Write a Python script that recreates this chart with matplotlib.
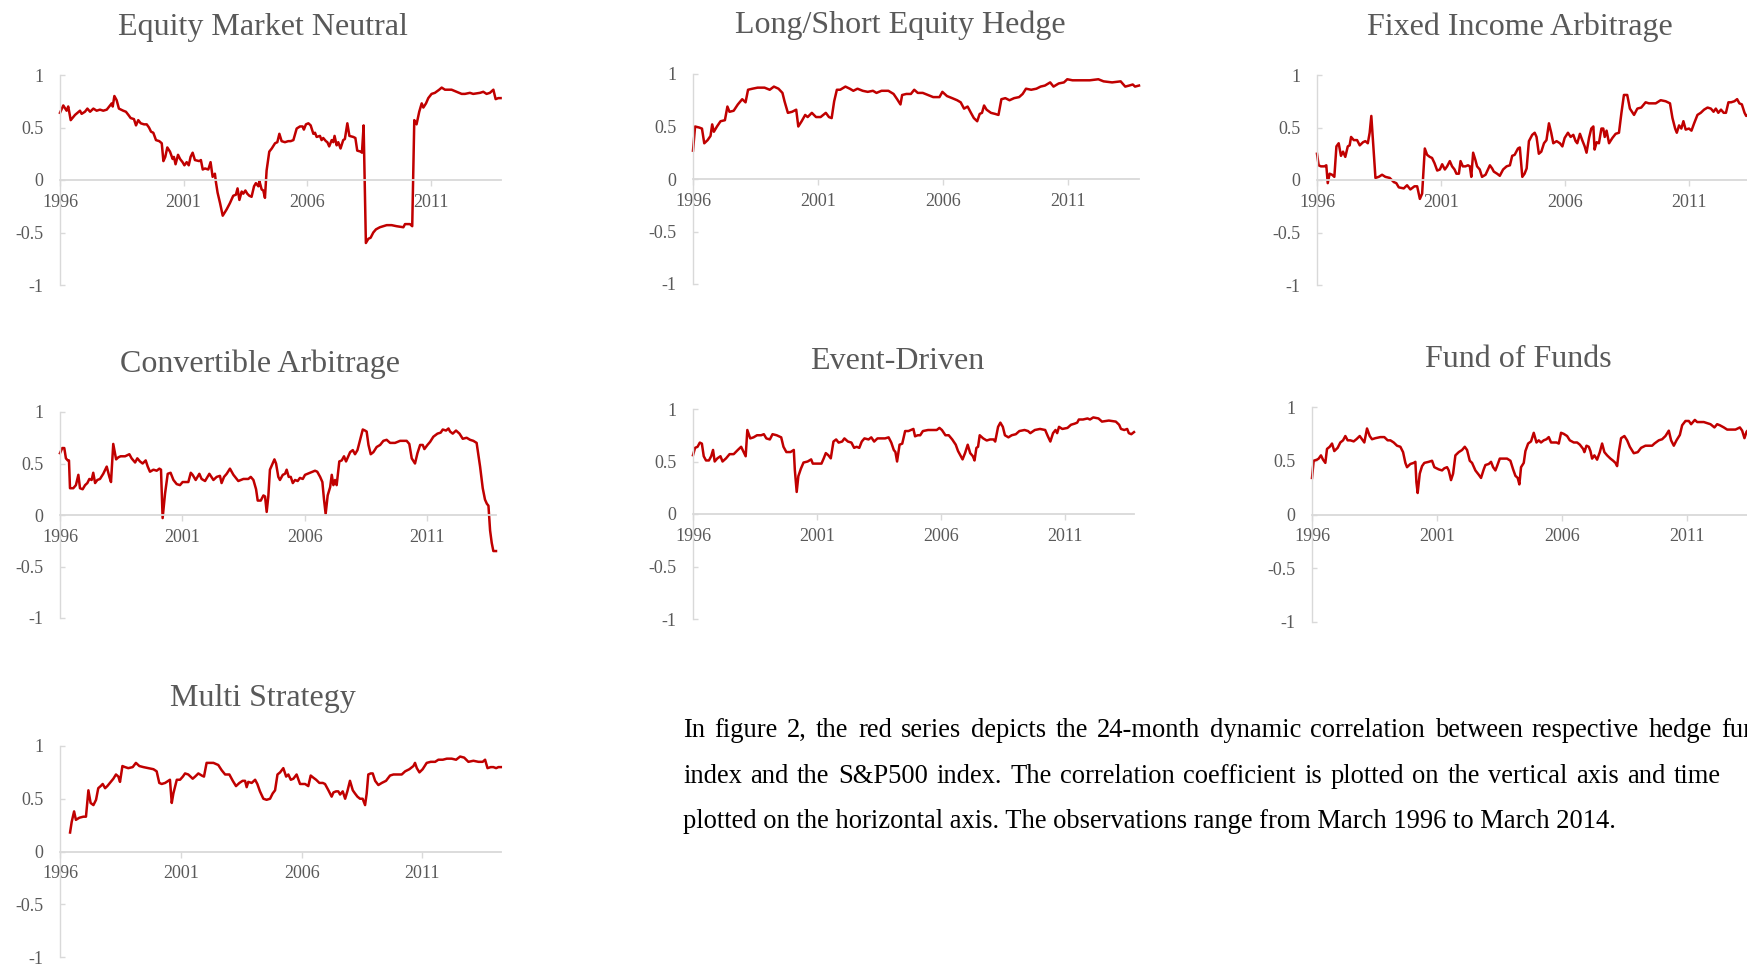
import matplotlib
matplotlib.use('Agg')
import matplotlib.pyplot as plt

plt.rcParams['font.family'] = ['Liberation Serif', 'DejaVu Serif']
plt.rcParams['axes.unicode_minus'] = False

# 24-month rolling correlation with S&P500, (months since Jan 1996, value)
emn = [(0,0.64),(1.6,0.71),(3.2,0.66),(4,0.70),(5.2,0.57),(7.3,0.62),(9.7,0.66),(10.5,0.63),(12.1,0.65),(13.3,0.68),
       (14.6,0.65),(16.2,0.68),(17.8,0.66),(19.4,0.67),(21,0.66),(22.7,0.67),(24.3,0.71),(25.1,0.73),(25.6,0.70),(26.4,0.80),
       (27.5,0.76),(28.6,0.68),(30.7,0.66),(32,0.65),(33.2,0.62),(34.3,0.59),(35.9,0.58),(36.9,0.52),(38,0.57),(39.2,0.54),
       (40.8,0.53),(42.1,0.53),(43.2,0.50),(44.2,0.46),(45.3,0.45),(46.6,0.38),(48.2,0.37),(49.4,0.35),(50.2,0.18),(51.1,0.22),
       (52.1,0.31),(53.4,0.27),(54.7,0.20),(55.3,0.22),(56.1,0.15),(57.3,0.24),(58.3,0.20),(59.5,0.17),(60.4,0.14),(61.5,0.17),
       (62.5,0.14),(63.4,0.22),(64.4,0.26),(65.5,0.19),(67.6,0.18),(68.4,0.19),(69.3,0.10),(70.4,0.11),(72,0.10),(73.1,0.17),
       (74.1,0.03),(75.2,0.06),(75.7,-0.02),(76.5,-0.12),(77.7,-0.22),(79,-0.34),(80.9,-0.28),(82.5,-0.22),(84.1,-0.15),(85.4,-0.14),
       (86.2,-0.08),(87.1,-0.19),(88.2,-0.11),(89,-0.13),(90,-0.10),(90.9,-0.13),(91.9,-0.15),(93,-0.16),(94.2,-0.06),(95.1,-0.03),
       (96.3,-0.06),(96.8,-0.01),(97.9,-0.09),(98.7,-0.10),(99.5,-0.17),(100.3,0.09),(101.6,0.27),(102.8,0.30),(104.4,0.35),(105.5,0.36),
       (106.5,0.44),(107.6,0.37),(109.2,0.36),(110.8,0.37),(112,0.37),(113.3,0.38),(114.9,0.49),(116.5,0.51),(117.8,0.51),(118.4,0.48),
       (119.4,0.53),(120.6,0.54),(121.7,0.52),(123,0.44),(123.8,0.45),(124.6,0.41),(126.2,0.42),(127,0.38),(127.8,0.40),(129.1,0.37),
       (129.8,0.36),(130.7,0.32),(131.9,0.38),(132.7,0.36),(133.3,0.42),(134.3,0.33),(135.1,0.36),(136.2,0.30),(137.5,0.38),(138.3,0.39),
       (139.5,0.54),(140.5,0.42),(142.4,0.41),(143.4,0.40),(144.3,0.28),(146,0.27),(146.6,0.26),(147.4,0.52),(148.5,-0.60),(149.7,-0.56),
       (150.8,-0.55),(152.1,-0.50),(153.4,-0.47),(155.3,-0.45),(158.6,-0.43),(161,-0.43),(163.4,-0.44),(166.7,-0.45),(167.5,-0.42),(169.9,-0.42),
       (171,-0.44),(172,0.57),(173.1,0.53),(174.4,0.65),(175.6,0.73),(176.4,0.69),(177.7,0.73),(178.8,0.78),(180.4,0.82),(182,0.83),
       (184.1,0.86),(185.3,0.88),(186.9,0.86),(190.1,0.86),(192.6,0.84),(195,0.82),(196.6,0.82),(199,0.83),(200.6,0.82),(203.9,0.83),
       (205.5,0.84),(207.1,0.82),(208.7,0.83),(210.4,0.86),(211.5,0.77),(212.8,0.78),(213.9,0.78)]

lse = [(0,0.27),(1,0.50),(3,0.49),(4.3,0.48),(5.4,0.34),(7,0.37),(8.4,0.41),(9.2,0.52),(10,0.45),(11.5,0.50),
       (13.2,0.55),(15.3,0.56),(16.5,0.69),(17.5,0.64),(19.5,0.65),(21.5,0.71),(23.6,0.76),(25.2,0.73),(26.4,0.85),(28.5,0.86),
       (31,0.87),(34.3,0.87),(36.8,0.85),(38.8,0.88),(41,0.86),(42.9,0.82),(43.9,0.74),(45.5,0.63),(47.5,0.64),(49.5,0.66),
       (50.5,0.50),(52.1,0.55),(53.8,0.61),(55,0.59),(57,0.63),(59,0.59),(61.2,0.59),(63.7,0.63),(65.2,0.59),(66.5,0.58),
       (67.7,0.74),(69,0.85),(70.6,0.85),(73.1,0.88),(75.2,0.86),(76.9,0.84),(78.9,0.86),(81.4,0.84),(83.8,0.83),(86.3,0.84),
       (88,0.82),(90.4,0.84),(93.7,0.84),(96.2,0.81),(97.9,0.76),(99.5,0.71),(100.3,0.80),(102.3,0.81),(104.5,0.81),(106.1,0.85),
       (107.8,0.82),(110.2,0.82),(112.7,0.80),(115.2,0.78),(118.2,0.78),(119.6,0.83),(121.8,0.79),(124.3,0.77),(126.7,0.75),(128.4,0.73),
       (130,0.67),(131.7,0.69),(133.3,0.63),(134.7,0.58),(136.3,0.55),(137.5,0.62),(138.6,0.63),(139.6,0.70),(140.8,0.66),(142.9,0.63),
       (144.9,0.62),(146.5,0.61),(147.9,0.76),(149.8,0.77),(151.8,0.75),(154,0.77),(156.4,0.78),(158.1,0.81),(159.7,0.86),(162.2,0.85),
       (164.7,0.86),(166.7,0.88),(168.8,0.89),(171.3,0.92),(172.9,0.88),(175.4,0.91),(177.9,0.92),(179.5,0.95),(182,0.94),(186.1,0.94),
       (190.3,0.94),(194.4,0.95),(196.9,0.93),(201,0.92),(205.1,0.93),(207.3,0.88),(209.2,0.89),(210.9,0.90),(212,0.88),(213.9,0.89)]

fia = [(0,0.25),(0.8,0.14),(1.9,0.13),(3.6,0.13),(4.5,0.14),(5.2,-0.03),(6.1,0.06),(7.3,0.05),(8.4,0.03),(9.4,0.32),
       (10.5,0.35),(11.6,0.23),(12.6,0.27),(13.7,0.22),(14.9,0.32),(15.8,0.33),(16.5,0.41),(17.8,0.38),(19.4,0.38),(20.7,0.33),
       (22.3,0.36),(23.4,0.37),(24.6,0.35),(25.5,0.45),(26.3,0.61),(27.1,0.38),(28.3,0.02),(29.9,0.03),(31.5,0.05),(33.1,0.03),
       (35.2,0.02),(37.2,-0.02),(38.4,-0.03),(39.6,-0.07),(42,-0.08),(43.6,-0.05),(45.2,-0.09),(47.2,-0.06),(48.5,-0.06),(49.8,-0.18),
       (50.9,-0.13),(52.2,0.30),(53.3,0.24),(54.6,0.22),(55.7,0.21),(56.9,0.16),(58.2,0.09),(59.5,0.10),(60.6,0.15),(61.9,0.10),
       (63,0.13),(64.3,0.18),(65.4,0.13),(66.6,0.10),(67.5,0.06),(68.7,0.06),(69.5,0.18),(70.6,0.13),(71.9,0.13),(73.1,0.14),
       (74,0.13),(74.7,0.03),(75.6,0.26),(76.7,0.19),(77.5,0.13),(78.8,0.10),(79.9,0.03),(81.6,0.05),(83.7,0.14),(84.8,0.11),
       (85.6,0.08),(87.2,0.06),(88.5,0.04),(90.1,0.10),(91.8,0.13),(93.4,0.14),(94.5,0.23),(95.7,0.24),(97.3,0.30),(98.2,0.31),
       (99.4,0.03),(100.5,0.06),(101.5,0.11),(102.6,0.37),(104.2,0.43),(105.4,0.45),(106.3,0.41),(107.4,0.25),(108.6,0.27),(109.9,0.35),
       (111.1,0.38),(112.3,0.54),(113.4,0.45),(114.4,0.35),(116,0.37),(117.6,0.35),(118.8,0.32),(119.9,0.40),(121.5,0.45),(122.8,0.41),
       (124.1,0.43),(125.2,0.37),(126,0.35),(127.3,0.44),(128.4,0.38),(129.6,0.32),(130.5,0.26),(131.7,0.40),(132.8,0.49),(133.8,0.51),
       (134.4,0.29),(135.4,0.36),(136.5,0.35),(137.7,0.49),(138.6,0.49),(139.3,0.41),(140.2,0.47),(141.4,0.35),(143,0.40),(144.6,0.44),
       (146.2,0.45),(147.4,0.64),(148.6,0.81),(150.2,0.81),(151.5,0.68),(153.5,0.62),(155.1,0.68),(157,0.69),(159.1,0.74),(160.7,0.73),
       (164,0.73),(166.4,0.76),(168.8,0.75),(170.9,0.73),(172.1,0.59),(173.4,0.49),(174.2,0.45),(175.3,0.52),(176.4,0.49),(177.4,0.56),
       (178.5,0.48),(180.1,0.49),(181.3,0.47),(182.6,0.54),(184.2,0.62),(185.8,0.64),(187.4,0.67),(189.1,0.69),(190.7,0.68),(192,0.65),
       (193.1,0.68),(194.3,0.64),(195.6,0.67),(196.9,0.64),(198,0.64),(199.2,0.74),(200.5,0.74),(202.1,0.75),(203.4,0.77),(204.5,0.73),
       (205.7,0.72),(207,0.64),(207.8,0.61),(208.6,0.62)]

cva = [(0,0.60),(1.1,0.65),(2.1,0.65),(2.9,0.55),(3.8,0.53),(4.4,0.53),(4.9,0.26),(6.5,0.26),(7.8,0.29),(9,0.39),
       (9.8,0.26),(11.1,0.25),(12.3,0.29),(13.4,0.31),(14.4,0.35),(15.5,0.34),(16.3,0.41),(17.2,0.31),(18.3,0.34),(19.6,0.35),
       (21.2,0.40),(22.9,0.47),(24.2,0.37),(25,0.32),(26.1,0.69),(27.5,0.54),(28.6,0.56),(29.7,0.57),(31.9,0.57),(34,0.59),
       (35.1,0.55),(36.8,0.51),(37.9,0.55),(39.2,0.52),(40.5,0.50),(42,0.53),(43,0.47),(44.1,0.42),(45.8,0.44),(47.4,0.43),
       (48.7,0.45),(49.5,0.44),(50.3,-0.03),(51.5,0.21),(52.8,0.40),(54.2,0.41),(55.6,0.34),(57.2,0.30),(58.8,0.29),(60.1,0.32),
       (61.8,0.32),(62.9,0.32),(64.1,0.41),(65,0.39),(66.5,0.34),(68.3,0.40),(69.4,0.35),(71.1,0.33),(73.2,0.40),(75.2,0.34),
       (76.8,0.37),(78.4,0.38),(79.2,0.31),(80.4,0.37),(81.7,0.40),(83.3,0.45),(85,0.39),(87.4,0.33),(89.9,0.35),(92.3,0.35),
       (93.5,0.37),(94.8,0.34),(96.1,0.25),(96.9,0.14),(98.4,0.14),(99.7,0.19),(100.5,0.18),(101.3,0.03),(102.1,0.18),(102.9,0.44),
       (104.2,0.50),(105.1,0.54),(105.9,0.50),(107,0.37),(107.8,0.34),(109.2,0.39),(110.3,0.40),(111.1,0.44),(112.1,0.37),(113.1,0.37),
       (114.1,0.31),(115.2,0.34),(116.5,0.33),(117.6,0.36),(119,0.35),(120.1,0.39),(122.5,0.41),(125,0.43),(126.1,0.42),(127.5,0.37),
       (128.6,0.32),(129.4,0.15),(130.2,0.01),(131.2,0.19),(132.4,0.27),(133.2,0.39),(134,0.29),(134.8,0.34),(135.6,0.29),(136.9,0.52),
       (138.1,0.53),(139.2,0.57),(140.2,0.52),(141.3,0.57),(142.2,0.61),(143.5,0.63),(144.6,0.59),(145.8,0.63),(147.1,0.73),(148.4,0.83),
       (149.5,0.82),(150.3,0.81),(151.2,0.68),(152.3,0.59),(153.6,0.61),(155.2,0.66),(156.9,0.68),(158.5,0.72),(160.1,0.73),(161.8,0.70),
       (164.2,0.70),(166.7,0.72),(169.9,0.72),(171.2,0.69),(172.4,0.55),(174,0.50),(175.2,0.60),(176.5,0.68),(177.8,0.68),(178.6,0.64),
       (180.1,0.68),(181.4,0.71),(183,0.76),(185,0.79),(186.6,0.80),(187.6,0.83),(189.2,0.82),(190.4,0.84),(191.2,0.81),(192.5,0.79),
       (194.1,0.82),(195.8,0.79),(197.4,0.74),(199.3,0.75),(201,0.73),(202.6,0.72),(204.2,0.70),(205.9,0.47),(207.2,0.26),(208.3,0.15),
       (209.2,0.11),(210,0.09),(210.8,-0.15),(211.6,-0.27),(212.4,-0.35),(213.7,-0.35)]

evd = [(0,0.56),(1,0.63),(2.2,0.64),(3.3,0.68),(4.3,0.67),(5.2,0.55),(6.3,0.51),(7.7,0.51),(8.8,0.55),(9.7,0.61),
       (10.5,0.50),(11.8,0.53),(13.3,0.55),(14.3,0.50),(16,0.53),(17.7,0.57),(19.7,0.57),(21.7,0.61),(23.3,0.64),(24.3,0.60),
       (25.5,0.55),(26.3,0.80),(27.7,0.72),(29.3,0.73),(31,0.75),(33,0.75),(34.3,0.76),(35.5,0.72),(37.2,0.71),(38.5,0.76),
       (40.5,0.75),(42.7,0.73),(43.8,0.64),(45.2,0.59),(47.2,0.59),(48.8,0.61),(49.3,0.42),(50.2,0.21),(51,0.36),(52.2,0.43),
       (53.5,0.49),(55.5,0.50),(57.2,0.52),(58,0.48),(59.7,0.48),(62.2,0.48),(63.3,0.53),(64.3,0.58),(65.5,0.56),(66.7,0.53),
       (68,0.69),(69.3,0.71),(70.5,0.68),(72.2,0.69),(73.3,0.72),(75,0.69),(76.7,0.68),(78,0.63),(79.2,0.64),(80.5,0.63),
       (81.7,0.69),(83,0.72),(85,0.71),(86.3,0.73),(87.7,0.69),(89.3,0.72),(91.3,0.72),(93,0.72),(94.7,0.73),(96,0.68),
       (97.2,0.61),(98,0.59),(98.8,0.50),(100,0.66),(101.3,0.67),(102.7,0.79),(104.3,0.79),(105.5,0.80),(106.7,0.81),(107.5,0.74),
       (108.8,0.75),(110,0.75),(111.3,0.79),(113.8,0.80),(116.3,0.80),(118,0.80),(119.3,0.82),(120.5,0.80),(122.2,0.75),(123.8,0.75),
       (125.5,0.71),(127.2,0.66),(128.3,0.60),(129.7,0.55),(130.5,0.52),(131.7,0.58),(133,0.66),(134.2,0.58),(135.5,0.55),(136.3,0.51),
       (137.2,0.63),(138,0.64),(138.8,0.75),(140.5,0.72),(142.2,0.70),(143.8,0.71),(145.5,0.71),(146.3,0.69),(147.7,0.83),(148.8,0.87),
       (150,0.83),(151,0.75),(152.7,0.73),(154.3,0.75),(156.3,0.76),(158,0.79),(160.5,0.80),(162.2,0.79),(163.3,0.77),(165.5,0.80),
       (168,0.81),(170.5,0.80),(171.8,0.74),(173,0.69),(174.3,0.77),(175.5,0.80),(176.3,0.77),(177.2,0.83),(178.8,0.81),(181.3,0.82),
       (183,0.85),(184.7,0.86),(186,0.87),(186.8,0.90),(188.8,0.90),(191,0.91),(192.2,0.90),(193.8,0.92),(196.3,0.91),(198,0.88),
       (201.3,0.89),(204.7,0.88),(206.3,0.85),(207.2,0.81),(208.8,0.80),(210.2,0.81),(211,0.77),(212.2,0.76),(213.5,0.78)]

fof = [(0,0.34),(0.8,0.50),(2.4,0.51),(3.2,0.52),(4.3,0.55),(5.3,0.51),(6.4,0.48),(7.2,0.61),(8.5,0.63),(9.6,0.66),
       (10.7,0.59),(12.3,0.62),(13.6,0.67),(14.9,0.69),(16,0.73),(17.1,0.69),(18.4,0.69),(20,0.68),(21.3,0.70),(22.9,0.73),
       (24,0.70),(25.1,0.67),(26.4,0.80),(27.7,0.73),(28.8,0.70),(30.4,0.71),(32.8,0.72),(34.7,0.72),(36.3,0.69),(37.6,0.69),
       (39.2,0.67),(40.8,0.64),(42.4,0.63),(43.7,0.58),(44.8,0.48),(45.6,0.44),(47.2,0.47),(48.8,0.48),(49.6,0.49),(50.1,0.30),
       (50.7,0.20),(51.7,0.38),(52.8,0.45),(53.9,0.48),(56,0.49),(57.6,0.50),(58.7,0.44),(60.8,0.42),(62.4,0.41),(63.5,0.43),
       (64.8,0.44),(65.6,0.41),(66.7,0.32),(67.7,0.38),(68.8,0.55),(70.4,0.58),(72,0.60),(73.3,0.63),(74.4,0.60),(75.7,0.50),
       (76.8,0.48),(78.4,0.41),(80,0.37),(81.1,0.34),(82.4,0.42),(83.2,0.46),(84.8,0.47),(85.9,0.49),(86.9,0.44),(88,0.41),
       (88.8,0.45),(90.1,0.52),(91.7,0.52),(93.6,0.52),(95.2,0.50),(96.5,0.42),(97.6,0.36),(98.7,0.34),(99.5,0.28),(100.3,0.44),
       (101.6,0.48),(102.4,0.59),(103.7,0.66),(105.1,0.68),(106.4,0.76),(107.7,0.67),(108.8,0.69),(109.9,0.67),(111.2,0.69),(112.5,0.70),
       (113.6,0.72),(114.7,0.67),(117.3,0.67),(118.4,0.66),(119.5,0.76),(120.8,0.75),(122.4,0.73),(123.7,0.69),(125.6,0.67),(127.2,0.67),
       (128.5,0.65),(130.1,0.61),(130.7,0.58),(131.7,0.64),(132.8,0.63),(133.6,0.59),(134.4,0.52),(135.5,0.55),(136.8,0.51),(138.1,0.58),
       (139.2,0.66),(140.3,0.58),(141.6,0.55),(143.2,0.52),(144.5,0.50),(145.6,0.48),(146.4,0.45),(147.2,0.58),(148.3,0.71),(149.9,0.73),
       (151.2,0.69),(152.5,0.63),(154.4,0.57),(156.3,0.58),(157.9,0.62),(160,0.64),(163.2,0.64),(164.3,0.66),(166.4,0.69),(168,0.70),
       (169.6,0.73),(171.2,0.78),(172.3,0.69),(173.6,0.64),(174.9,0.69),(176.5,0.74),(177.6,0.83),(179.2,0.87),(180.8,0.87),(181.9,0.84),
       (183.7,0.88),(184.8,0.86),(188,0.86),(191.2,0.84),(193.1,0.81),(194.4,0.84),(195.7,0.83),(197.6,0.81),(199.2,0.79),(200.8,0.79),
       (203.2,0.79),(205.3,0.81),(206.4,0.78),(207.5,0.71),(208.5,0.77),(209,0.78)]

mst = [(5,0.18),(5.8,0.28),(7,0.38),(7.9,0.30),(9.6,0.32),(11.6,0.33),(12.9,0.33),(14.1,0.58),(15.2,0.46),(16.6,0.44),
       (17.9,0.49),(19,0.60),(20.2,0.62),(21.2,0.64),(22.4,0.60),(23.5,0.62),(24.8,0.65),(26.5,0.69),(27.8,0.73),(29,0.71),
       (29.8,0.66),(31,0.81),(32.3,0.80),(33.9,0.79),(36.1,0.80),(37.7,0.84),(39.4,0.81),(41.4,0.80),(43.9,0.79),(46.4,0.78),
       (48,0.76),(49.3,0.65),(50.5,0.64),(52.2,0.65),(53.8,0.67),(54.6,0.68),(55.5,0.46),(56.3,0.55),(58,0.68),(59.6,0.68),
       (61,0.71),(62.1,0.74),(63.7,0.73),(65.9,0.69),(67.1,0.71),(68.7,0.74),(70.4,0.72),(71.5,0.71),(72.8,0.84),(74.5,0.84),
       (76.2,0.84),(78.6,0.82),(80.3,0.77),(82,0.73),(84.1,0.73),(85.8,0.67),(87.4,0.62),(89.1,0.65),(90.7,0.67),(91.9,0.67),
       (92.7,0.61),(93.5,0.66),(95.2,0.65),(96.9,0.68),(98,0.64),(99.3,0.57),(101,0.50),(102.6,0.49),(104.3,0.50),(105.6,0.55),
       (106.8,0.58),(108,0.73),(109.3,0.75),(110.9,0.79),(112.3,0.71),(113.4,0.73),(114.6,0.68),(115.9,0.69),(117.5,0.73),(119.2,0.64),
       (121.7,0.64),(123.3,0.62),(124.5,0.72),(125.8,0.70),(127.2,0.68),(128.8,0.65),(130.5,0.65),(131.6,0.64),(133.3,0.58),(134.9,0.52),
       (135.8,0.56),(137.1,0.57),(138.2,0.57),(139.1,0.54),(140.4,0.57),(141.6,0.50),(142.7,0.57),(144,0.67),(145.4,0.58),(146.5,0.55),
       (147.7,0.52),(149,0.50),(150.3,0.50),(151.5,0.44),(152.3,0.55),(153.1,0.73),(154.3,0.74),(155.3,0.74),(156.5,0.67),(158.1,0.63),
       (159.8,0.65),(161.9,0.67),(163.9,0.72),(165.6,0.73),(168,0.73),(169.7,0.73),(171.4,0.76),(173.5,0.78),(175.5,0.81),(176.3,0.84),
       (177.2,0.79),(178.5,0.75),(180.1,0.78),(182.1,0.84),(184.1,0.85),(186.3,0.85),(187.9,0.87),(190.1,0.87),(192.1,0.88),(194.5,0.88),
       (196.7,0.87),(198.7,0.90),(200.7,0.89),(202.8,0.85),(205.3,0.86),(207.8,0.85),(209.9,0.85),(211.1,0.87),(212.3,0.79),(213.9,0.80),
       (215.2,0.80),(216.6,0.79),(217.7,0.80),(218.9,0.80)]

titles = ['Equity Market Neutral', 'Long/Short Equity Hedge', 'Fixed Income Arbitrage',
          'Convertible Arbitrage', 'Event-Driven', 'Fund of Funds', 'Multi Strategy']
series = [emn, lse, fia, cva, evd, fof, mst]
tick_years = [1996, 2001, 2006, 2011]
y_ticks = [-1, -0.5, 0, 0.5, 1]
y_tick_labels = ['-1', '-0.5', '0', '0.5', '1']

paragraph = [
    'In figure 2, the red series depicts the 24-month dynamic correlation between respective hedge fund',
    'index and the S&P500 index. The correlation coefficient is plotted on the vertical axis and time',
    'plotted on the horizontal axis. The observations range from March 1996 to March 2014.',
]

# layout in pixels: left, right, y of +1, y of -1, months spanned by axis, title x, title baseline
W, H = 1747, 968
boxes = [
    (60, 501, 75, 285, 214.1, 263, 35),
    (693, 1139, 74, 284, 213.9, 900, 33),
    (1317, 1759, 75, 285, 214.0, 1520, 35),
    (60, 496, 412, 618, 213.7, 260, 372),
    (693, 1134, 409, 619, 213.5, 897, 369),
    (1312, 1758, 407, 622, 214.0, 1518, 367),
    (60, 501, 746, 957, 219.0, 263, 706),
]

RED = '#C00000'
GREY = '#595959'
AXIS = '#D9D9D9'

fig = plt.figure(figsize=(W / 100, H / 100), dpi=100)

for title, data, (l, r, yt, yb, span, tx, ty) in zip(titles, series, boxes):
    ax = fig.add_axes([l / W, 1 - yb / H, (r - l) / W, (yb - yt) / H])
    months = [p[0] for p in data]
    values = [p[1] for p in data]
    ax.plot(months, values, color=RED, lw=1.8, solid_joinstyle='round', clip_on=False)
    ax.set_xlim(0, span)
    ax.set_ylim(-1, 1)
    ax.patch.set_visible(False)
    for s in ('top', 'right'):
        ax.spines[s].set_visible(False)
    ax.spines['bottom'].set_position(('data', 0))
    ax.spines['bottom'].set_color(AXIS)
    ax.spines['bottom'].set_linewidth(1.3)
    ax.spines['left'].set_color(AXIS)
    ax.spines['left'].set_linewidth(1.0)
    ax.set_xticks([(y - 1996) * 12 for y in tick_years])
    ax.set_xticklabels([str(y) for y in tick_years])
    ax.set_yticks(y_ticks)
    ax.set_yticklabels(y_tick_labels)
    ax.tick_params(axis='x', direction='out', length=4, width=1, color=AXIS,
                   labelcolor=GREY, labelsize=13, pad=6)
    ax.tick_params(axis='y', direction='in', length=3.5, width=1, color=AXIS,
                   labelcolor=GREY, labelsize=13, pad=12)
    fig.text(tx / W, 1 - ty / H, title, ha='center', va='baseline', fontsize=23, color=GREY)

# caption paragraph; first two lines are justified (last word starts at a fixed x)
renderer = fig.canvas.get_renderer()
px0 = 683
last_word_x = [1721, 1674]
baselines = [737, 783, 828]
for i, (line, yb) in enumerate(zip(paragraph, baselines)):
    if i == len(paragraph) - 1:
        fig.text(px0 / W, 1 - yb / H, line, fontsize=19.1, color='black', va='baseline')
        continue
    words = line.split()
    texts = [fig.text(0, 1 - yb / H, w, fontsize=19.1, color='black', va='baseline') for w in words]
    widths = [t.get_window_extent(renderer).width for t in texts]
    gap = (last_word_x[i] - px0 - sum(widths[:-1])) / (len(words) - 1)
    x = px0
    for t, w in zip(texts, widths):
        t.set_x(x / W)
        x += w + gap

fig.savefig('out.png', dpi=100)
